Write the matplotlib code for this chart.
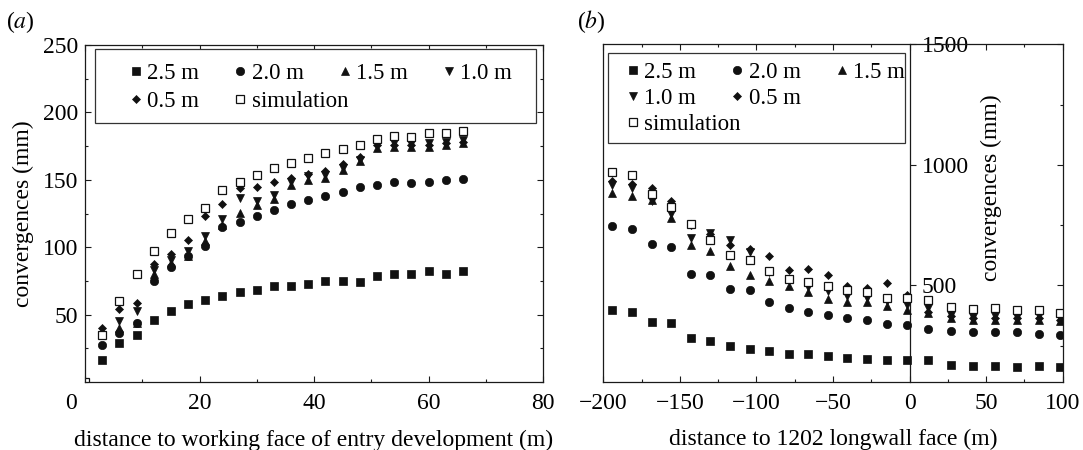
import matplotlib
matplotlib.use("Agg")
import matplotlib.pyplot as plt
from matplotlib.patches import Rectangle
from matplotlib.legend import Legend
from matplotlib.ticker import MultipleLocator, FixedLocator, FuncFormatter

plt.rcParams['font.family'] = ['Liberation Serif', 'DejaVu Serif']
plt.rcParams['mathtext.fontset'] = 'stix'

# ---------------- (a) entry development ----------------
dist_a = [3, 6, 9, 12, 15, 18, 21, 24, 27, 30, 33, 36, 39, 42, 45, 48, 51, 54, 57, 60, 63, 66]
sim_dist_a = [0] + dist_a
a_25 = [16.1, 29.0, 35.2, 46.3, 52.4, 57.9, 61.1, 63.6, 66.5, 68.5, 71.0, 71.5,
        72.7, 74.7, 74.7, 73.9, 79.0, 80.1, 80.1, 82.1, 80.4, 82.1]
a_20 = [27.8, 36.4, 43.5, 75.2, 85.3, 93.7, 101.1, 114.7, 118.4, 122.8, 127.8, 132.2,
        135.0, 138.2, 141.2, 144.4, 146.3, 148.3, 147.5, 148.5, 150.0, 150.8]
a_15 = [38.0, 40.1, 43.8, 80.1, 88.3, 93.7, 104.3, 116.7, 125.3, 131.5, 136.0, 146.0,
        150.0, 151.4, 157.0, 163.6, 173.5, 174.7, 174.7, 174.2, 175.9, 177.1]
a_10 = [35.0, 45.0, 52.5, 83.3, 90.7, 96.9, 108.0, 120.9, 136.5, 134.5, 138.5, 148.5,
        152.5, 153.7, 158.6, 164.5, 177.0, 177.6, 176.6, 177.1, 178.4, 179.6]
a_05 = [40.0, 54.2, 58.7, 87.5, 95.2, 105.0, 122.8, 132.2, 143.8, 144.8, 148.5, 151.4,
        154.0, 156.2, 161.8, 166.8, 175.5, 176.0, 175.5, 175.5, 177.0, 178.0]
a_sim = [0.0, 34.7, 60.4, 80.1, 96.9, 110.5, 120.9, 129.0, 142.6, 148.7, 153.7, 158.6,
         162.8, 166.0, 169.8, 172.7, 175.9, 180.1, 182.6, 182.1, 184.6, 185.0, 186.5]

# ---------------- (b) longwall face ----------------
dist_b = [-194.5, -181.5, -168.5, -155.5, -142.5, -130, -117, -104, -91.5, -79, -66,
          -53.5, -41, -28, -15, -1.5, 12, 27, 41.5, 55.5, 70, 84.5, 98]
b_25 = [399, 390, 348, 344, 282, 268, 250, 234, 227, 213, 213, 206, 199, 193, 192,
        190, 192, 171, 167, 167, 162, 166, 161]
b_20 = [744, 735, 673, 659, 548, 541, 485, 479, 431, 406, 390, 378, 365, 358, 341,
        334, 320, 312, 305, 308, 305, 296, 294]
b_15 = [885, 869, 855, 780, 669, 644, 579, 544, 517, 499, 471, 443, 430, 430, 416,
        396, 383, 365, 358, 358, 358, 355, 350]
b_10 = [915, 903, 848, 795, 696, 717, 686, 640, 555, 525, 492, 478, 454, 447, 434,
        420, 406, 378, 369, 372, 369, 372, 365]
b_05 = [931, 920, 903, 848, 750, 712, 668, 652, 623, 565, 569, 541, 497, 489, 510,
        460, 390, 372, 364, 365, 364, 364, 358]
b_sim = [969, 956, 880, 824, 754, 686, 624, 606, 558, 526, 512, 499, 482, 471, 448,
         448, 437, 410, 402, 406, 396, 396, 385]

series_labels = ['2.5 m', '2.0 m', '1.5 m', '1.0 m', '0.5 m', 'simulation']

INK = '#111111'
styles = {
    '2.5 m': dict(marker='s', ms=5.3, mfc=INK, mec=INK, mew=0.5),
    '2.0 m': dict(marker='o', ms=6.0, mfc=INK, mec=INK, mew=0.5),
    '1.5 m': dict(marker='^', ms=6.4, mfc=INK, mec=INK, mew=0.5),
    '1.0 m': dict(marker='v', ms=6.4, mfc=INK, mec=INK, mew=0.5),
    '0.5 m': dict(marker='D', ms=4.4, mfc=INK, mec=INK, mew=0.5),
    'simulation': dict(marker='s', ms=6.0, mfc='white', mec=INK, mew=0.9),
}

FS_TICK = 17
FS_TEXT = 17
FS_LEG = 16.5
TICK_PAD = 8

fig = plt.figure(figsize=(10.83, 4.5), dpi=100)
ax_a = fig.add_axes([0.07849, 0.15111, 0.42290, 0.74889])
ax_b = fig.add_axes([0.55706, 0.15178, 0.42419, 0.74978])


def style_box(ax):
    for sp in ax.spines.values():
        sp.set_linewidth(0.9)
        sp.set_color('#1a1a1a')
    ax.tick_params(which='both', direction='in', top=True, right=True,
                   color='#1a1a1a', width=0.8, labelsize=FS_TICK, pad=TICK_PAD)
    ax.tick_params(which='major', length=4.5)
    ax.tick_params(which='minor', length=2.5)
    ax.tick_params(axis='y', pad=5)


def add_legend_rows(ax, handles_rows, x_left, y_rows, frame):
    fx0, fy0, fx1, fy1 = frame
    ax.add_patch(Rectangle((fx0, fy0), fx1 - fx0, fy1 - fy0, transform=ax.transAxes,
                           facecolor='white', edgecolor='#333333', lw=0.9, zorder=4,
                           clip_on=False))
    for row, y in zip(handles_rows, y_rows):
        leg = Legend(ax, [h for h, _ in row], [l for _, l in row], ncol=len(row),
                     loc='center left', bbox_to_anchor=(x_left, y),
                     bbox_transform=ax.transAxes, frameon=False, borderpad=0,
                     borderaxespad=0, handlelength=0.6, handletextpad=0.2,
                     columnspacing=1.486, fontsize=FS_LEG, numpoints=1)
        leg.set_zorder(5)
        ax.add_artist(leg)


# ---- panel (a) ----
handles_a = {}
for lab, ys in zip(series_labels[:-1], [a_25, a_20, a_15, a_10, a_05]):
    handles_a[lab], = ax_a.plot(dist_a, ys, ls='none', **styles[lab])
handles_a['simulation'], = ax_a.plot(sim_dist_a, a_sim, ls='none', **styles['simulation'])

ax_a.set_xlim(0, 80)
ax_a.set_ylim(0, 250)
ax_a.xaxis.set_major_locator(MultipleLocator(20))
ax_a.xaxis.set_minor_locator(MultipleLocator(10))
ax_a.yaxis.set_major_locator(FixedLocator([50, 100, 150, 200, 250]))
ax_a.yaxis.set_minor_locator(MultipleLocator(25))
# the origin label sits left of the corner, drawn separately below
ax_a.xaxis.set_major_formatter(FuncFormatter(lambda v, p: '' if v == 0 else f'{v:g}'))
style_box(ax_a)
ax_a.annotate('0', xy=(0, 0), xycoords=('data', 'axes fraction'),
              xytext=(-10, -TICK_PAD), textcoords='offset points',
              ha='center', va='top', fontsize=FS_TICK)
ax_a.set_xlabel('distance to working face of entry development (m)', fontsize=FS_TEXT, labelpad=11)
ax_a.set_ylabel('convergences (mm)', fontsize=FS_TEXT, labelpad=6)

add_legend_rows(
    ax_a,
    [[(handles_a[l], l) for l in ['2.5 m', '2.0 m', '1.5 m', '1.0 m']],
     [(handles_a[l], l) for l in ['0.5 m', 'simulation']]],
    x_left=0.0963, y_rows=[0.9169, 0.8338],
    frame=(0.0229, 0.7694, 0.9847, 0.988))

# ---- panel (b) ----
handles_b = {}
for lab, ys in zip(series_labels, [b_25, b_20, b_15, b_10, b_05, b_sim]):
    handles_b[lab], = ax_b.plot(dist_b, ys, ls='none', **styles[lab])

ax_b.set_xlim(-200, 100)
ax_b.set_ylim(100, 1500)
ax_b.xaxis.set_major_locator(MultipleLocator(50))
ax_b.xaxis.set_minor_locator(MultipleLocator(25))
ax_b.yaxis.set_major_locator(FixedLocator([500, 1000, 1500]))
ax_b.yaxis.set_minor_locator(FixedLocator([250, 750, 1250]))
style_box(ax_b)
ax_b.tick_params(axis='y', which='both', left=False, labelleft=False)
ax_b.set_xlabel('distance to 1202 longwall face (m)', fontsize=FS_TEXT, labelpad=11)

# vertical axis drawn through x = 0
x0_frac = (0 - (-200)) / 300
sec = ax_b.secondary_yaxis(x0_frac)
sec.set_yticks([500, 1000, 1500])
sec.spines['right'].set_linewidth(0.9)
sec.spines['right'].set_color('#1a1a1a')
sec.tick_params(direction='out', length=4.5, width=0.8, pad=4.5,
                labelsize=FS_TICK, color='#1a1a1a')
sec.set_ylabel('convergences (mm)', fontsize=FS_TEXT)
sec.yaxis.set_label_coords(0.8455, 0.574, transform=ax_b.transAxes)
sec.yaxis.label.set_verticalalignment('center')
sec.yaxis.label.set_horizontalalignment('center')

add_legend_rows(
    ax_b,
    [[(handles_b[l], l) for l in ['2.5 m', '2.0 m', '1.5 m']],
     [(handles_b[l], l) for l in ['1.0 m', '0.5 m']],
     [(handles_b['simulation'], 'simulation')]],
    x_left=0.0496, y_rows=[0.9158, 0.8388, 0.7617],
    frame=(0.0102, 0.7066, 0.6567, 0.9751))

# panel tags
fig.text(20 / 1083, 1 - 22 / 450, r'($\mathit{a}$)', fontsize=FS_TEXT, ha='center', va='center')
fig.text(591 / 1083, 1 - 22 / 450, r'($\mathit{b}$)', fontsize=FS_TEXT, ha='center', va='center')

fig.savefig('out.png', dpi=100)
